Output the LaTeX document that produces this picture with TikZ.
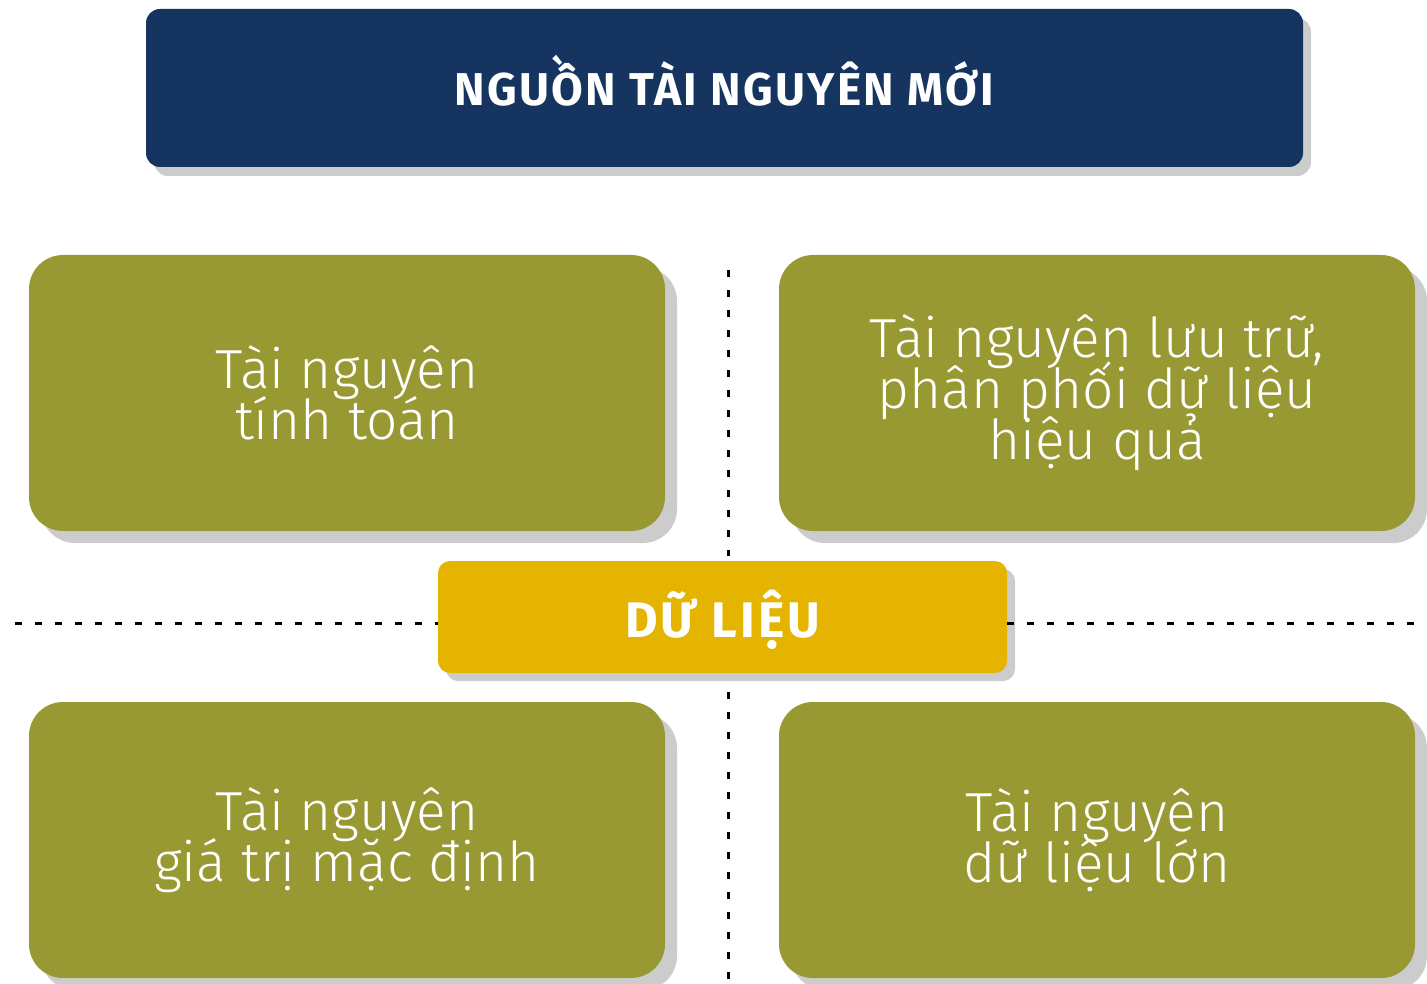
\documentclass[tikz,border=0pt]{standalone}
\usepackage{fontspec}
\setmainfont{Fira Sans}
\newfontfamily\bodyfont{Fira Sans Light}
\usetikzlibrary{shadows}
\definecolor{navy}{HTML}{15345F}
\definecolor{olive}{HTML}{999933}
\definecolor{gold}{HTML}{E5B400}
\definecolor{shade}{HTML}{CCCCCC}
\newcommand\mytightlines{\lineskiplimit=-30pt\relax}
\tikzset{
  card/.style={fill=olive, rounded corners=34pt, minimum width=636pt, minimum height=276pt,
    text=white, align=center, font=\bodyfont\fontsize{55}{51}\selectfont\mytightlines, inner sep=0pt,
    general shadow={fill=shade, shadow xshift=12pt, shadow yshift=-12pt}},
  titlebox/.style={fill=navy, rounded corners=14pt, minimum width=1157pt, minimum height=158pt,
    text=white, font=\bfseries\fontsize{46}{46}\selectfont\addfontfeature{LetterSpace=5},
    inner sep=0pt, text height=36pt, text depth=0pt,
    general shadow={fill=shade, shadow xshift=8pt, shadow yshift=-9pt}},
  databox/.style={fill=gold, rounded corners=12pt, minimum width=569pt, minimum height=112pt,
    text=white, font=\bfseries\fontsize{50}{50}\selectfont\addfontfeature{LetterSpace=6},
    inner sep=0pt, text height=40pt, text depth=0pt,
    general shadow={fill=shade, shadow xshift=8pt, shadow yshift=-8pt}},
  sep/.style={line width=3pt, dash pattern=on 7pt off 13pt}
}
\begin{document}
\begin{tikzpicture}[x=1pt,y=-1pt]
\useasboundingbox (0,0) rectangle (1427,984);
\coordinate (vt1) at (728,270);
\coordinate (vb1) at (728,556);
\coordinate (vt2) at (728,692);
\coordinate (vb2) at (728,984);
\coordinate (hl) at (15,623);
\coordinate (hr) at (1427,623);
\draw[sep] (vt1) -- (vb1);
\draw[sep] (vt2) -- (vb2);
\node[titlebox] (title) at (724.5,88) {NGUỒN TÀI NGUYÊN MỚI};
\node[card] (tl) at (347,393) {Tài nguyên\\tính toán};
\node[card] (tr) at (1097,393) {Tài nguyên lưu trữ,\\phân phối dữ liệu\\hiệu quả};
\node[card] (bl) at (347,840) {Tài nguyên\\giá trị mặc định};
\node[card] (br) at (1097,840) {Tài nguyên\\dữ liệu lớn};
\node[databox] (data) at (722.5,617) {DỮ LIỆU};
\draw[sep] (hl) -- (hl -| data.west);
\draw[sep] (hr -| data.east) -- (hr);
\end{tikzpicture}
\end{document}
